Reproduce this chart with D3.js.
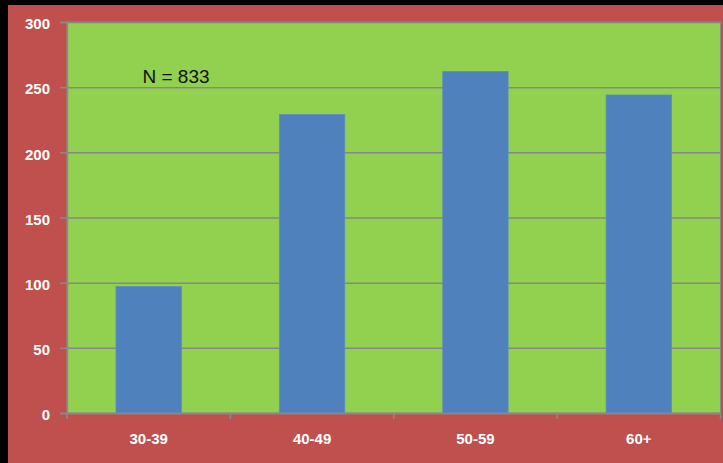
<!DOCTYPE html>
<html>
<head>
<meta charset="utf-8">
<script src="https://cdn.jsdelivr.net/npm/d3@7"></script>
<style>
  html, body { margin: 0; padding: 0; background: #000; }
  svg { display: block; }
</style>
</head>
<body>
<svg id="chart" width="723" height="463"></svg>
<script>
// Age groups and respondent counts
const categories = ["30-39", "40-49", "50-59", "60+"];
const counts = [97, 229, 262, 244];
const yTicks = [0, 50, 100, 150, 200, 250, 300];
const sampleLabel = "N = 833";

const W = 723, H = 463;
const frame = { left: 8, top: 5 };
const plot = { left: 67, top: 22, right: 720.5, bottom: 413 };

const svg = d3.select("#chart");

// outer dark frame and chart background
svg.append("rect").attr("width", W).attr("height", H).attr("fill", "#000");
svg.append("rect")
  .attr("x", frame.left).attr("y", frame.top)
  .attr("width", W - frame.left).attr("height", H - frame.top)
  .attr("fill", "#c0504d");

// plot area
svg.append("rect")
  .attr("x", plot.left).attr("y", plot.top)
  .attr("width", plot.right - plot.left).attr("height", plot.bottom - plot.top)
  .attr("fill", "#92d050")
  .attr("stroke", "#8a8a8a").attr("stroke-width", 1);

const x = d3.scaleBand()
  .domain(categories)
  .range([plot.left, plot.right])
  .paddingInner(0.6)
  .paddingOuter(0.3);

const y = d3.scaleLinear()
  .domain([0, 300])
  .range([plot.bottom, plot.top]);

const labelFont = "'Liberation Sans', Arial, sans-serif";

// horizontal gridlines
svg.append("g")
  .attr("transform", `translate(${plot.left},0)`)
  .call(d3.axisLeft(y).tickValues(yTicks).tickSize(-(plot.right - plot.left)).tickFormat(""))
  .call(g => g.select(".domain").remove())
  .call(g => g.selectAll("line").attr("stroke", "#878787").attr("stroke-width", 1.5));

// bars
svg.append("g")
  .selectAll("rect")
  .data(categories)
  .join("rect")
  .attr("x", d => x(d))
  .attr("y", (d, i) => y(counts[i]))
  .attr("width", x.bandwidth())
  .attr("height", (d, i) => y(0) - y(counts[i]))
  .attr("fill", "#4f81bd")
  .attr("stroke", "#5a8cc4")
  .attr("stroke-width", 0.8);

// y axis
const yAxis = svg.append("g")
  .attr("transform", `translate(${plot.left},0)`)
  .call(d3.axisLeft(y).tickValues(yTicks).tickSize(7).tickPadding(10));
yAxis.select(".domain").attr("stroke", "#8a8a8a").attr("stroke-width", 1.5);
yAxis.selectAll("line").attr("stroke", "#8a8a8a").attr("stroke-width", 1.5);
yAxis.selectAll("text")
  .attr("fill", "#fff")
  .style("font-family", labelFont)
  .style("font-size", "15px")
  .style("font-weight", "bold")
  .attr("dy", "0.45em");

// x axis labels
const xAxis = svg.append("g")
  .attr("transform", `translate(0,${plot.bottom})`)
  .call(d3.axisBottom(x).tickSize(0).tickPadding(20));
xAxis.select(".domain").attr("stroke", "#8a8a8a").attr("stroke-width", 1.5);
xAxis.selectAll("text")
  .attr("fill", "#fff")
  .style("font-family", labelFont)
  .style("font-size", "15px")
  .style("font-weight", "bold");

// category boundary tick marks
const half = (x.step() - x.bandwidth()) / 2;
const bounds = categories.map(c => x(c) - half).concat([x(categories[categories.length - 1]) + x.bandwidth() + half]);
svg.append("g")
  .selectAll("line")
  .data(bounds)
  .join("line")
  .attr("x1", d => d).attr("x2", d => d)
  .attr("y1", plot.bottom).attr("y2", plot.bottom + 6)
  .attr("stroke", "#8a8a8a").attr("stroke-width", 1.5);

// sample size annotation
svg.append("text")
  .attr("x", 142.5).attr("y", 82.5)
  .attr("fill", "#111")
  .style("font-family", labelFont)
  .style("font-size", "19px")
  .text(sampleLabel);
</script>
</body>
</html>
